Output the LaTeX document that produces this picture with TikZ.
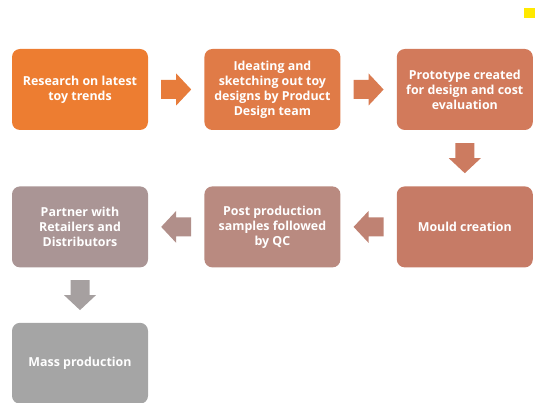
\documentclass[tikz,border=0pt]{standalone}
\usepackage{fontspec}
\setmainfont{Open Sans}
\usetikzlibrary{positioning,calc}

\definecolor{stepA}{HTML}{ED7D31}
\definecolor{stepB}{HTML}{E07B47}
\definecolor{stepC}{HTML}{D27A5B}
\definecolor{stepD}{HTML}{C67B66}
\definecolor{stepE}{HTML}{B98A80}
\definecolor{stepF}{HTML}{AA9595}
\definecolor{stepG}{HTML}{A5A5A5}
\definecolor{markyellow}{HTML}{FFE900}

\tikzset{
	stepbox/.style={rectangle, rounded corners=8pt, minimum width=136pt, minimum height=81pt,
		align=center, text=white, inner sep=0pt,
		font=\fontsize{12.4}{15}\selectfont\bfseries},
	blockarrow/.pic={\fill (-15,-9.5) -- (0,-9.5) -- (0,-16) -- (15,0) -- (0,16) -- (0,9.5) -- (-15,9.5) -- cycle;}
}

\begin{document}
\begin{tikzpicture}[x=1pt,y=-1pt]
	\useasboundingbox (0,0) rectangle (538,403);
	
	% marker in the corner
	\fill[markyellow] (524,8) rectangle (535,18);
	
	% top row
	\node[stepbox, fill=stepA] (research) at (80,89.5) {Research on latest\\toy trends};
	\node[stepbox, fill=stepB, right=56pt of research] (ideate) {Ideating and\\sketching out toy\\designs by Product\\Design team};
	\node[stepbox, fill=stepC, right=56pt of ideate] (proto) {Prototype created\\for design and cost\\evaluation};
	
	% middle row
	\node[stepbox, fill=stepD, below=56pt of proto] (mould) {Mould creation};
	\node[stepbox, fill=stepE, left=56pt of mould] (samples) {Post production\\samples followed\\by QC};
	\node[stepbox, fill=stepF, left=56pt of samples] (partner) {Partner with\\Retailers and\\Distributors};
	
	% bottom
	\node[stepbox, fill=stepG, below=55pt of partner] (mass) {Mass production};
	
	% block arrows
	\pic[color=stepA!55!stepB] at ($(research.east)!0.5!(ideate.west)$) {blockarrow};
	\pic[color=stepB!50!stepC] at ($(ideate.east)!0.5!(proto.west)$) {blockarrow};
	\pic[color=stepC!50!stepD, rotate=-90] at ($(proto.south)!0.5!(mould.north)$) {blockarrow};
	\pic[color=stepD!50!stepE, rotate=180] at ($(mould.west)!0.5!(samples.east)$) {blockarrow};
	\pic[color=stepE!50!stepF, rotate=180] at ($(samples.west)!0.5!(partner.east)$) {blockarrow};
	\pic[color=stepF!30!stepG, rotate=-90] at ($(partner.south)!0.5!(mass.north)$) {blockarrow};
\end{tikzpicture}
\end{document}
